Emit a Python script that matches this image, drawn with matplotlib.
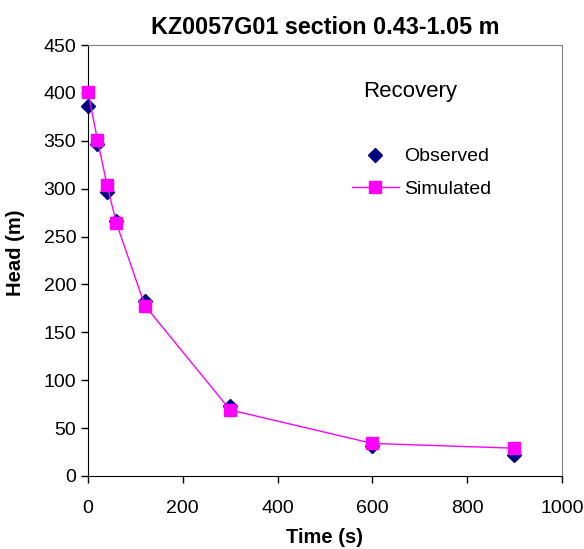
import numpy as np
import matplotlib
matplotlib.use("Agg")
import matplotlib.pyplot as plt

plt.rcParams['font.family'] = ['Liberation Sans', 'DejaVu Sans']

# recovery data
time_s = [0, 20, 40, 60, 120, 300, 600, 900]
observed = [386, 347, 297, 266, 183, 73, 31, 22]
simulated = [401, 351, 304, 264, 178, 69, 34, 29]

fig = plt.figure(figsize=(5.84, 5.49), dpi=100)
ax = fig.add_axes([0.1507, 0.133, 0.8113, 0.785])

ax.plot(time_s, observed, linestyle='none', marker='D', color='#000080',
        markersize=7, label='Observed', zorder=3, clip_on=False)
ax.plot(time_s, simulated, color='#FF00FF', marker='s', markersize=8,
        linewidth=1, label='Simulated', zorder=4, clip_on=False)

ax.set_xlim(0, 1000)
ax.set_ylim(0, 450)
ax.set_xticks(np.arange(0, 1001, 200))
ax.set_yticks(np.arange(0, 451, 50))
ax.tick_params(direction='out', length=5, width=1, labelsize=14, colors='black')
ax.tick_params(axis='x', pad=12)
for s in ['top', 'right']:
	ax.spines[s].set_color('#808080')
for s in ['left', 'bottom']:
	ax.spines[s].set_color('black')

ax.set_title('KZ0057G01 section 0.43-1.05 m', fontsize=16.8, fontweight='bold', pad=8)
ax.set_xlabel('Time (s)', fontsize=14.5, fontweight='bold', labelpad=8)
ax.set_ylabel('Head (m)', fontsize=14.5, fontweight='bold')
ax.yaxis.set_label_coords(-0.133, 0.517)

ax.text(0.58, 0.891, 'Recovery', transform=ax.transAxes, fontsize=16, va='center')
leg = ax.legend(loc='upper left', bbox_to_anchor=(0.52, 0.802), frameon=False,
                fontsize=14, handlelength=2.4, handletextpad=0.3, labelspacing=0.75)

fig.savefig('out.png', dpi=100)
